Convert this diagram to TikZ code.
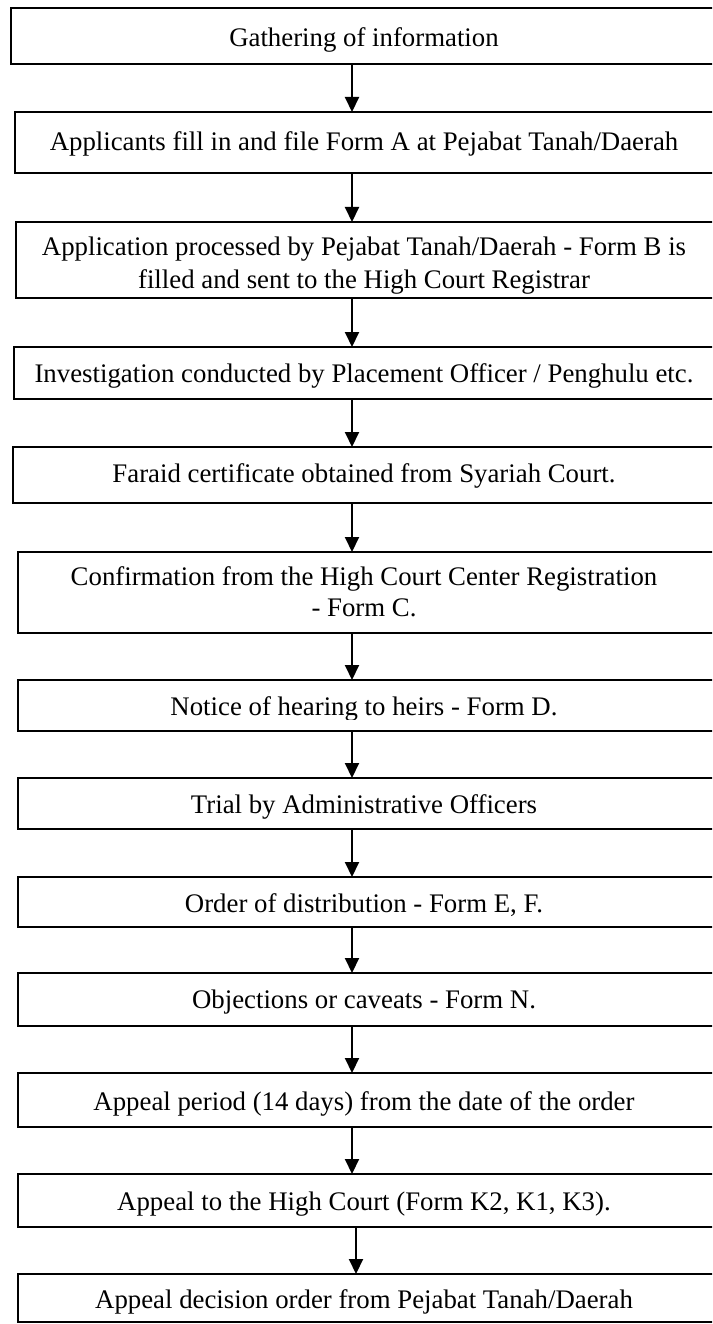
\documentclass[tikz,border=0pt]{standalone}
\usepackage{fontspec}
\setmainfont{Liberation Serif}
\usetikzlibrary{arrows.meta}
\begin{document}
\begin{tikzpicture}[x=1pt,y=-1pt,
  frame/.style={draw=black, line width=1.8pt, inner sep=0pt, outer sep=0pt,
    anchor=north west, rectangle},
  lbl/.style={inner sep=0pt, anchor=base, font=\fontsize{26.8}{33}\selectfont},
  flow/.style={draw=black, line width=2pt, -{Triangle[length=15pt,width=14pt]}}]
\useasboundingbox (0,0) rectangle (712,1324);
\clip (0,0) rectangle (712,1324);

% process boxes (right sides run past the page edge)
\node[frame, minimum width=709pt, minimum height=56pt] (b1)  at (11,8)    {};
\node[frame, minimum width=705pt, minimum height=61pt] (b2)  at (15,112)  {};
\node[frame, minimum width=704pt, minimum height=76pt] (b3)  at (16,222)  {};
\node[frame, minimum width=706pt, minimum height=52pt] (b4)  at (14,347)  {};
\node[frame, minimum width=707pt, minimum height=56pt] (b5)  at (13,447)  {};
\node[frame, minimum width=702pt, minimum height=81pt] (b6)  at (18,552)  {};
\node[frame, minimum width=702pt, minimum height=51pt] (b7)  at (18,680)  {};
\node[frame, minimum width=702pt, minimum height=51pt] (b8)  at (18,778)  {};
\node[frame, minimum width=702pt, minimum height=50pt] (b9)  at (18,877)  {};
\node[frame, minimum width=702pt, minimum height=53pt] (b10) at (18,973)  {};
\node[frame, minimum width=702pt, minimum height=54pt] (b11) at (18,1073) {};
\node[frame, minimum width=702pt, minimum height=53pt] (b12) at (18,1174) {};
\node[frame, minimum width=702pt, minimum height=48pt] (b13) at (18,1274) {};

% box texts
\node[lbl] (t1)  at (364,47)   {Gathering of information};
\node[lbl] (t2)  at (364,151)  {Applicants fill in and file Form A at Pejabat Tanah/Daerah};
\begin{scope}
  \clip (16,222) rectangle (720,294.5);
  \node[lbl] (t3a) at (364,255) {Application processed by Pejabat Tanah/Daerah - Form B is};
  \node[lbl] (t3b) at (364,288) {filled and sent to the High Court Registrar};
\end{scope}
\node[lbl] (t4)  at (364,382)  {Investigation conducted by Placement Officer / Penghulu etc.};
\node[lbl] (t5)  at (364,482)  {Faraid certificate obtained from Syariah Court.};
\node[lbl] (t6a) at (364,585)  {Confirmation from the High Court Center Registration};
\node[lbl] (t6b) at (364,616)  {- Form C.};
\begin{scope}
  \clip (18,680) rectangle (720,719);
  \node[lbl] (t7) at (364,715) {Notice of hearing to heirs - Form D.};
\end{scope}
\node[lbl] (t8)  at (364,813)  {Trial by Administrative Officers};
\node[lbl] (t9)  at (364,912)  {Order of distribution - Form E, F.};
\node[lbl] (t10) at (364,1008) {Objections or caveats - Form N.};
\node[lbl] (t11) at (364,1110) {Appeal period (14 days) from the date of the order};
\node[lbl] (t12) at (364,1210) {Appeal to the High Court (Form K2, K1, K3).};
\node[lbl] (t13) at (364,1308) {Appeal decision order from Pejabat Tanah/Daerah};

% connectors
\coordinate (ax) at (352,0);
\coordinate (az) at (356,0);
\foreach \a/\b in {b1/b2, b2/b3, b3/b4, b4/b5, b5/b6, b6/b7, b7/b8,
                   b8/b9, b9/b10, b10/b11, b11/b12}
  \draw[flow] (\a.south -| ax) -- (\b.north -| ax);
\draw[flow] (b12.south -| az) -- (b13.north -| az);
\end{tikzpicture}
\end{document}
